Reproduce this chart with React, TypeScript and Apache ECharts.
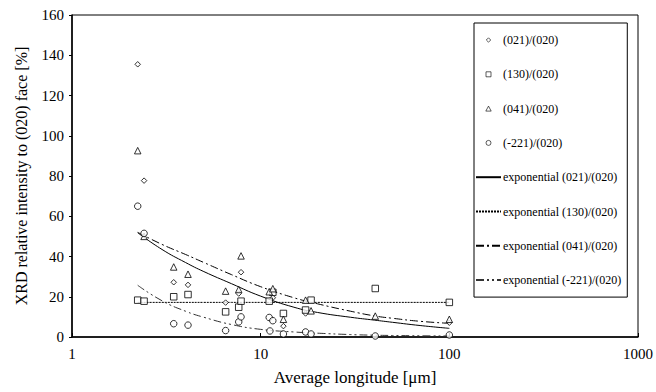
import React, { useEffect, useRef } from "react";
import * as echarts from "echarts";

// Scatter data (x = average longitude [µm], y = relative intensity [%])
const x021 = [2.23, 2.41, 3.46, 4.12, 6.52, 7.65, 7.87, 11.6, 13.2, 17.3, 100];
const y021 = [135.5, 77.7, 27.2, 25.9, 17.1, 21.6, 32.2, 19.5, 5.4, 11.7, 7.1];

const x130 = [2.23, 2.41, 3.46, 4.12, 6.52, 7.65, 7.87, 11.1, 11.6, 13.2, 17.3, 18.5, 40.5, 100];
const y130 = [18.3, 17.8, 20, 21.1, 12.5, 14.8, 17.8, 17.8, 22.2, 11.7, 13.4, 18.3, 24.1, 17.2];

const x041 = [2.23, 2.41, 3.46, 4.12, 6.52, 7.65, 7.87, 11.1, 11.6, 13.2, 17.3, 18.5, 40.5, 100];
const y041 = [92.6, 50, 34.8, 31.2, 22.8, 23.6, 40.3, 22.5, 24, 8.8, 18.3, 13, 10.4, 8.8];

const x221 = [2.23, 2.41, 3.46, 4.12, 6.52, 7.65, 7.87, 11.1, 11.2, 11.6, 13.2, 17.3, 18.5, 40.5, 100];
const y221 = [65, 51.5, 6.6, 5.9, 3.2, 7.5, 10, 9.7, 3, 8.1, 1.5, 2.5, 1.5, 0.5, 1];

// Trend curves at these x positions
const trendX = [2.23, 3, 4, 5, 7, 10, 15, 20, 30, 40, 50, 70, 100];
const trend021 = [51.8, 43.5, 37, 32.5, 26.5, 20.3, 14.8, 12.2, 9.8, 8.4, 7.3, 5.7, 4.3];
const trend130 = [17.2, 17.2, 17.2, 17.2, 17.2, 17.2, 17.2, 17.2, 17.2, 17.2, 17.2, 17.2, 17.2];
const trend041 = [52, 46, 41, 37, 31, 25, 19.5, 16.5, 12.8, 10.5, 9.3, 7.8, 6.8];
const trend221 = [25.7, 18, 12.8, 9.8, 6.2, 3.8, 2.5, 1.9, 1.2, 0.9, 0.75, 0.6, 0.5];

const yTicks = { min: 0, max: 160, interval: 20 };
const xRange = { min: 1, max: 1000 };

const FONT = "Times New Roman, Liberation Serif, DejaVu Serif, serif";

const pairs = (xs: number[], ys: number[]) => xs.map((x, i) => [x, ys[i]]);

const hollow = { color: "#ffffff", borderColor: "#000000", borderWidth: 1 };

// legend icons: invisible moveTo points span the full 25x6 icon box so the mark keeps its shape
const BOX = "M0 0M25 6";
const iconDiamond = "path://" + BOX + "M12.5 0.8L14.7 3L12.5 5.2L10.3 3Z";
const iconSquare = "path://" + BOX + "M10 0.5L15 0.5L15 5.5L10 5.5Z";
const iconTriangle = "path://" + BOX + "M12.5 0.5L15.2 5.5L9.8 5.5Z";
const iconCircle = "path://" + BOX + "M12.5 0.5A2.5 2.5 0 1 1 12.5 5.5A2.5 2.5 0 1 1 12.5 0.5Z";

export default function App() {
  const ref = useRef<HTMLDivElement>(null);
  useEffect(() => {
    if (!ref.current) return;
    const chart = echarts.init(ref.current, undefined, { renderer: "svg" });
    const lineSeries = (name: string, ys: number[], type: any, color: string) => ({
      name,
      type: "line",
      data: pairs(trendX, ys),
      smooth: true,
      symbol: "none",
      showSymbol: false,
      lineStyle: { color, width: 1, type },
      itemStyle: { color },
      z: 1,
    });
    const hiddenMark = { opacity: 0 };
    const markStyle = { color: "#ffffff", borderColor: "#000", borderWidth: 0.8 };
    chart.setOption({
      animation: false,
      backgroundColor: "#ffffff",
      textStyle: { fontFamily: FONT },
      grid: { left: 72, right: 18, top: 15, bottom: 55, show: true, borderColor: "#000", borderWidth: 1 },
      xAxis: {
        type: "log",
        logBase: 10,
        min: xRange.min,
        max: xRange.max,
        name: "Average longitude [\u03bcm]",
        nameLocation: "middle",
        nameGap: 32,
        nameTextStyle: { fontFamily: FONT, fontSize: 17, color: "#000" },
        axisLine: { lineStyle: { color: "#000", width: 1.5 } },
        axisTick: { inside: true, length: 4, lineStyle: { color: "#000" } },
        minorTick: { show: false },
        axisLabel: { fontFamily: FONT, fontSize: 15, color: "#000", margin: 9, formatter: (v: number) => String(v) },
        splitLine: { show: false },
      },
      yAxis: {
        type: "value",
        min: yTicks.min,
        max: yTicks.max,
        interval: yTicks.interval,
        name: "XRD relative intensity to (020) face [%]",
        nameLocation: "middle",
        nameGap: 43,
        nameTextStyle: { fontFamily: FONT, fontSize: 16, color: "#000" },
        axisLine: { show: true, lineStyle: { color: "#000", width: 1.5 } },
        axisTick: { show: true, length: 3, lineStyle: { color: "#000" } },
        axisLabel: { fontFamily: FONT, fontSize: 15, color: "#000", margin: 8 },
        splitLine: { show: false },
      },
      legend: {
        orient: "vertical",
        left: 474,
        top: 23,
        itemWidth: 25,
        itemHeight: 6,
        itemGap: 22.3,
        padding: [11, 6, 11, 1],
        backgroundColor: "#ffffff",
        borderColor: "#000",
        borderWidth: 1,
        textStyle: { fontFamily: FONT, fontSize: 12, color: "#000", padding: [0, 0, 0, -3] },
        data: [
          { name: "(021)/(020)", icon: iconDiamond, itemStyle: markStyle },
          { name: "(130)/(020)", icon: iconSquare, itemStyle: markStyle },
          { name: "(041)/(020)", icon: iconTriangle, itemStyle: markStyle },
          { name: "(-221)/(020)", icon: iconCircle, itemStyle: markStyle },
          { name: "exponential (021)/(020)", itemStyle: hiddenMark },
          { name: "exponential (130)/(020)", itemStyle: hiddenMark },
          { name: "exponential (041)/(020)", itemStyle: hiddenMark },
          { name: "exponential (-221)/(020)", itemStyle: hiddenMark },
        ],
      },
      series: [
        { name: "(021)/(020)", type: "scatter", symbol: "diamond", symbolSize: 5.5, data: pairs(x021, y021), itemStyle: hollow, z: 3 },
        { name: "(130)/(020)", type: "scatter", symbol: "rect", symbolSize: 6.5, data: pairs(x130, y130), itemStyle: hollow, z: 3 },
        { name: "(041)/(020)", type: "scatter", symbol: "triangle", symbolSize: 6.5, data: pairs(x041, y041), itemStyle: hollow, z: 3 },
        { name: "(-221)/(020)", type: "scatter", symbol: "circle", symbolSize: 6.5, data: pairs(x221, y221), itemStyle: hollow, z: 3 },
        lineSeries("exponential (021)/(020)", trend021, "solid", "#000"),
        lineSeries("exponential (130)/(020)", trend130, [2, 1], "#000"),
        lineSeries("exponential (041)/(020)", trend041, [8, 3, 2, 3], "#000"),
        lineSeries("exponential (-221)/(020)", trend221, [8, 3, 2, 3, 2, 3], "#333"),
      ],
    });
    return () => chart.dispose();
  }, []);
  return <div ref={ref} style={{ position: "absolute", left: 0, top: 0, width: 656, height: 392 }} />;
}
